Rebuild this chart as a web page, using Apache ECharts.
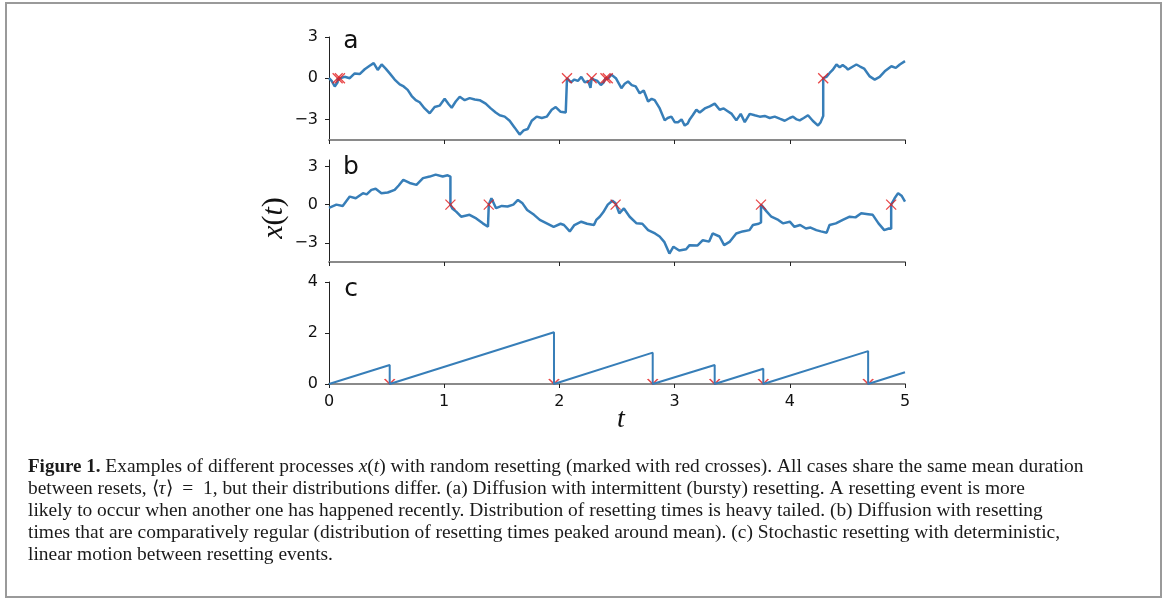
<!DOCTYPE html>
<html>
<head>
<meta charset="utf-8">
<script src="https://cdn.jsdelivr.net/npm/echarts@6/dist/echarts.min.js"></script>
<style>
  html, body { margin: 0; padding: 0; background: #fff; }
  #fig { width: 1168px; height: 599px; }
</style>
</head>
<body>
<div id="fig"></div>
<script>
// panel a: bursty resetting
const tA = [0, 0.023, 0.05, 0.075, 0.075, 0.085, 0.095, 0.095, 0.136, 0.18, 0.223, 0.266, 0.31, 0.353, 0.388, 0.423, 0.457, 0.492, 0.527, 0.57,
  0.614, 0.648, 0.683, 0.718, 0.753, 0.787, 0.83, 0.874, 0.917, 0.96, 1.004, 1.039, 1.065, 1.1, 1.135, 1.178, 1.221, 1.265, 1.308, 1.36,
  1.404, 1.447, 1.482, 1.525, 1.568, 1.612, 1.655, 1.69, 1.725, 1.76, 1.803, 1.847, 1.89, 1.933, 1.968, 2.011, 2.055, 2.066, 2.066, 2.1,
  2.13, 2.16, 2.19, 2.22, 2.25, 2.27, 2.28, 2.28, 2.3, 2.33, 2.36, 2.385, 2.40, 2.40, 2.41, 2.42, 2.42, 2.451, 2.49, 2.538,
  2.567, 2.596, 2.628, 2.662, 2.697, 2.732, 2.77, 2.801, 2.827, 2.871, 2.914, 2.94, 2.972, 3.001, 3.03, 3.06, 3.088, 3.114, 3.131, 3.157,
  3.189, 3.218, 3.262, 3.305, 3.348, 3.391, 3.426, 3.461, 3.496, 3.536, 3.574, 3.609, 3.652, 3.695, 3.739, 3.782, 3.826, 3.869, 3.912, 3.956,
  3.999, 4.028, 4.06, 4.086, 4.121, 4.158, 4.199, 4.245, 4.268, 4.29, 4.29, 4.318, 4.346, 4.372, 4.405, 4.433, 4.459, 4.485, 4.505, 4.537,
  4.578, 4.61, 4.645, 4.671, 4.694, 4.737, 4.78, 4.824, 4.882, 4.92, 4.955, 5.0];
const xA = [0, -0.2, -0.6, -0.3, 0, -0.15, -0.1, 0, 0.1, 0.0, 0.35, 0.3, 0.65, 0.9, 1.1, 0.6, 1.0, 0.7, 0.35, -0.1,
  -0.45, -0.6, -0.85, -1.3, -1.6, -1.75, -2.2, -2.55, -2.1, -2.0, -1.5, -1.9, -2.15, -1.7, -1.35, -1.6, -1.45, -1.55, -1.6, -1.85,
  -2.2, -2.5, -2.7, -2.8, -3.1, -3.6, -4.1, -3.8, -3.7, -3.1, -2.8, -2.9, -2.8, -2.3, -2.1, -2.45, -2.5, -2.45, 0, -0.3,
  -0.1, -0.2, 0.1, -0.3, -0.2, -0.7, -0.6, 0, -0.1, -0.2, -0.5, -0.3, -0.4, 0, -0.1, -0.05, 0, 0.26, 0.0, -0.73,
  -0.4, -0.24, -0.5, -0.6, -1.1, -0.9, -1.7, -1.5, -1.6, -2.2, -3.07, -2.9, -2.8, -3.2, -3.2, -3.0, -3.45, -3.3, -3.0, -2.7,
  -2.3, -2.5, -2.2, -2.05, -1.85, -2.3, -2.2, -2.4, -2.6, -3.07, -2.6, -3.2, -2.6, -2.7, -2.8, -2.75, -2.9, -2.8, -2.95, -3.1,
  -2.9, -2.8, -3.0, -3.07, -2.9, -2.7, -3.1, -3.45, -3.2, -2.75, 0, 0.1, 0.38, 0.6, 1.0, 0.8, 0.95, 0.8, 0.63, 0.8,
  1.0, 0.85, 0.7, 0.4, 0.13, -0.1, 0.1, 0.5, 0.87, 0.75, 1.0, 1.24];
const resetA = [0.075, 0.095, 2.066, 2.28, 2.40, 2.42, 4.29];

// panel b: regular resetting
const tB = [0, 0.064, 0.119, 0.18, 0.232, 0.295, 0.327, 0.368, 0.405, 0.455, 0.51, 0.57, 0.605, 0.645, 0.7, 0.759, 0.816, 0.874, 0.926, 0.987,
  1.03, 1.054, 1.054, 1.07, 1.104, 1.147, 1.22, 1.278, 1.335, 1.38, 1.387, 1.387, 1.41, 1.45, 1.5, 1.55, 1.6, 1.64, 1.68, 1.72,
  1.78, 1.83, 1.89, 1.95, 2.01, 2.04, 2.09, 2.13, 2.19, 2.24, 2.3, 2.32, 2.35, 2.38, 2.42, 2.46, 2.488, 2.488, 2.52, 2.56,
  2.61, 2.67, 2.72, 2.77, 2.83, 2.87, 2.91, 2.955, 2.99, 3.04, 3.1, 3.13, 3.2, 3.245, 3.3, 3.33, 3.39, 3.43, 3.48, 3.535,
  3.59, 3.65, 3.68, 3.73, 3.75, 3.75, 3.8, 3.84, 3.9, 3.94, 4.0, 4.04, 4.09, 4.14, 4.18, 4.23, 4.27, 4.32, 4.345, 4.4,
  4.46, 4.52, 4.57, 4.62, 4.68, 4.72, 4.77, 4.82, 4.86, 4.88, 4.88, 4.91, 4.94, 4.97, 5.0];
const xB = [-0.25, 0.0, -0.1, 0.63, 0.5, 0.9, 0.8, 1.16, 1.25, 0.9, 0.95, 1.16, 1.5, 1.95, 1.7, 1.55, 2.08, 2.2, 2.35, 2.2,
  2.3, 2.2, 0, -0.3, -0.55, -0.95, -0.8, -1.08, -1.47, -1.74, -1.8, 0, 0.5, -0.28, -0.1, -0.15, 0.0, 0.37, 0.1, -0.42,
  -0.8, -1.2, -1.47, -1.74, -1.5, -1.6, -2.1, -1.6, -1.34, -1.5, -1.6, -1.2, -0.95, -0.6, 0.0, 0.3, 0.1, 0, -0.68, -0.3,
  -0.95, -1.47, -1.5, -2.0, -2.26, -2.5, -2.92, -3.84, -3.3, -3.6, -3.5, -3.18, -3.2, -2.79, -2.9, -2.26, -2.5, -3.18, -2.9, -2.26,
  -2.1, -2.0, -1.6, -1.5, -1.4, 0, -0.55, -0.95, -1.2, -1.47, -1.34, -1.74, -1.6, -1.87, -1.8, -2.0, -2.1, -2.2, -1.6, -1.47,
  -1.2, -0.95, -1.0, -0.68, -0.75, -0.8, -1.47, -2.0, -1.87, -1.9, 0, 0.5, 0.9, 0.7, 0.24];
const resetB = [1.054, 1.387, 2.488, 3.75, 4.88];

// panel c: linear motion, value just before each reset
const resetC = [0.527, 1.953, 2.81, 3.348, 3.77, 4.68];
const peakC = [0.745, 2.03, 1.23, 0.745, 0.6, 1.29];
const endC = 0.46;

const xTicks = [0, 1, 2, 3, 4, 5];
const yTicksAB = [-3, 0, 3];
const yTicksC = [0, 2, 4];
const panelLetters = ['a', 'b', 'c'];

const captionLines = [
  '{b|Figure 1.} Examples of different processes {i|x}({i|t}) with random resetting (marked with red crosses). All cases share the same mean duration',
  'between resets, ⟨{i|τ}⟩\u2002=\u20021, but their distributions differ. (a) Diffusion with intermittent (bursty) resetting. A resetting event is more',
  'likely to occur when another one has happened recently. Distribution of resetting times is heavy tailed. (b) Diffusion with resetting',
  'times that are comparatively regular (distribution of resetting times peaked around mean). (c) Stochastic resetting with deterministic,',
  'linear motion between resetting events.'
];

const BLUE = '#377eb8';
const RED = '#e41a1c';
const CAP_SIZE = 19.45;

const chart = echarts.init(document.getElementById('fig'));

const zip = (ts, xs) => ts.map((t, i) => [t, xs[i]]);
const lineC = [[0, 0]];
resetC.forEach((t, i) => { lineC.push([t, peakC[i]]); lineC.push([t, 0]); });
lineC.push([5, endC]);

const grids = [
  { left: 329, width: 576, top: 37, height: 103 },
  { left: 329, width: 576, top: 160, height: 102 },
  { left: 329, width: 576, top: 282, height: 102 }
];

const minus = v => String(v).replace('-', '\u2212');

const xAxes = grids.map((g, i) => ({
  gridIndex: i, type: 'value', min: 0, max: 5, interval: 1,
  axisLine: { onZero: false, lineStyle: { color: '#8a8a8a', width: 2 } },
  axisTick: { show: true, length: 4, lineStyle: { color: '#222', width: 1 } },
  axisLabel: { show: i === 2, margin: 10, color: '#111', fontFamily: 'DejaVu Sans', fontSize: 16 },
  splitLine: { show: false }
}));

const yRanges = [[-4.5, 3], [-4.5, 3.5], [0, 4]];
const yAxes = yRanges.map((r, i) => {
  const ticks = i === 2 ? yTicksC : yTicksAB;
  return {
    gridIndex: i, type: 'value', min: r[0], max: r[1],
    axisLine: { show: true, onZero: false, lineStyle: { color: '#222', width: 1 } },
    axisTick: { show: true, length: 4, customValues: ticks, lineStyle: { color: '#222', width: 1 } },
    axisLabel: { customValues: ticks, margin: 11, color: '#111', fontFamily: 'DejaVu Sans', fontSize: 16, formatter: minus },
    splitLine: { show: false }
  };
});

const crossPath = 'path://M0,0L10,10M0,10L10,0';
const halfCross = 'path://M0,0L5,5L10,0';

const lineSeries = (idx, data) => ({
  type: 'line', xAxisIndex: idx, yAxisIndex: idx, data: data,
  showSymbol: false, symbol: 'none', z: 3,
  lineStyle: { color: BLUE, width: idx === 2 ? 2 : 2.5 }
});
const crossSeries = (idx, ts, sym, size, offset) => ({
  type: 'scatter', xAxisIndex: idx, yAxisIndex: idx,
  data: ts.map(t => [t, 0]), symbol: sym, symbolSize: size, symbolOffset: offset, z: idx === 2 ? 2 : 4,
  itemStyle: { color: 'rgba(0,0,0,0)', borderColor: RED, borderWidth: 1.3 }
});

const letterY = [41, 167, 289];

const graphic = [
  { type: 'rect', shape: { x: 6, y: 3, width: 1155, height: 594 }, style: { fill: 'none', stroke: '#9a9a9a', lineWidth: 2 } },
  {
    type: 'text', x: 274, y: 218, rotation: Math.PI / 2,
    style: {
      text: '{i|x}({i|t})', align: 'center', verticalAlign: 'middle',
      fontFamily: 'Liberation Serif', fontSize: 30, fill: '#111',
      rich: { i: { fontFamily: 'Liberation Serif', fontStyle: 'italic', fontSize: 30, fill: '#111' } }
    }
  },
  {
    type: 'text', x: 621, y: 420,
    style: { text: 't', align: 'center', verticalAlign: 'middle', fontFamily: 'Liberation Serif', fontStyle: 'italic', fontSize: 28, fill: '#111' }
  }
];
panelLetters.forEach((l, i) => {
  graphic.push({
    type: 'text', x: 351, y: letterY[i],
    style: { text: l, align: 'center', verticalAlign: 'middle', fontFamily: 'DejaVu Sans', fontSize: 25, fill: '#111' }
  });
});
captionLines.forEach((txt, i) => {
  graphic.push({
    type: 'text', x: 28, y: 467 + i * 22,
    style: {
      text: txt, align: 'left', verticalAlign: 'middle',
      fontFamily: 'Liberation Serif', fontSize: CAP_SIZE, fill: '#1a1a1a',
      rich: {
        b: { fontFamily: 'Liberation Serif', fontWeight: 'bold', fontSize: 19, fill: '#1a1a1a' },
        i: { fontFamily: 'Liberation Serif', fontStyle: 'italic', fontSize: CAP_SIZE, fill: '#1a1a1a' }
      }
    }
  });
});

const option = {
  animation: false,
  backgroundColor: '#fff',
  grid: grids,
  xAxis: xAxes,
  yAxis: yAxes,
  series: [
    lineSeries(0, zip(tA, xA)),
    crossSeries(0, resetA, crossPath, 10, [0, 0]),
    lineSeries(1, zip(tB, xB)),
    crossSeries(1, resetB, crossPath, 10, [0, 0]),
    lineSeries(2, lineC),
    crossSeries(2, resetC, halfCross, [10, 5], [0, -2.5])
  ],
  graphic: graphic
};

chart.setOption(option);
</script>
</body>
</html>
